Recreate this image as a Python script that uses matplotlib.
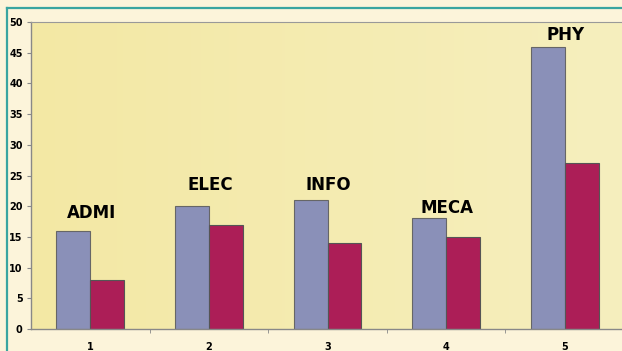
import numpy as np
import matplotlib
matplotlib.use('Agg')
import matplotlib.pyplot as plt
from matplotlib.lines import Line2D

categories = ["1", "2", "3", "4", "5"]
group_names = ["ADMI", "ELEC", "INFO", "MECA", "PHY"]
series_a = [16, 20, 21, 18, 46]
series_b = [8, 17, 14, 15, 27]
label_y = [18.9, 23.4, 23.4, 19.7, 47.9]

fig = plt.figure(figsize=(6.22, 3.51), dpi=100)
fig.patch.set_facecolor('#fcf4da')

# teal frame on left and top
fig.add_artist(Line2D([7/622, 7/622], [0, 1 - 8/351], color='#3aa5a0', lw=1.6))
fig.add_artist(Line2D([7/622, 1], [1 - 8/351, 1 - 8/351], color='#3aa5a0', lw=1.6))

ax = fig.add_axes([31/622, 1 - 329/351, 593/622, 307/351])

# soft yellow gradient background
grad = np.linspace(0, 1, 256).reshape(1, -1)
cmap = matplotlib.colors.LinearSegmentedColormap.from_list('bg', ['#f3e8a4', '#f6efbe'])
ax.imshow(grad, extent=[0.5, 5.5, 0, 50], aspect='auto', cmap=cmap, zorder=0)

x = np.arange(1, 6)
w = 0.285
ax.bar(x - w/2, series_a, width=w, color='#8a90b8', edgecolor='#666666', linewidth=0.8, zorder=2)
ax.bar(x + w/2, series_b, width=w, color='#ac1e57', edgecolor='#555555', linewidth=0.8, zorder=2)

for xi, name, ly in zip(x, group_names, label_y):
    ax.text(xi + 0.01, ly, name, ha='center', va='center', fontsize=12,
            fontweight='heavy', color='black', zorder=3)

ax.set_xlim(0.5, 5.5)
ax.set_ylim(0, 50)
ax.set_yticks(range(0, 51, 5))
ax.set_xticks(x)
ax.set_xticklabels(categories)
ax.set_xticks(np.arange(1.5, 5.5, 1), minor=True)
ax.tick_params(axis='x', which='major', length=0, pad=9)
ax.tick_params(axis='x', which='minor', length=3, color='#888888')
ax.tick_params(axis='y', length=3, color='#888888', pad=3)
for lab in ax.get_xticklabels() + ax.get_yticklabels():
    lab.set_fontsize(7)
    lab.set_fontweight('bold')

for s in ['left', 'bottom']:
    ax.spines[s].set_color('#888888')
    ax.spines[s].set_linewidth(1.0)
ax.spines['top'].set_color('#999999')
ax.spines['top'].set_linewidth(0.8)
ax.spines['right'].set_visible(False)

fig.savefig('out.png', dpi=100, facecolor=fig.get_facecolor())
